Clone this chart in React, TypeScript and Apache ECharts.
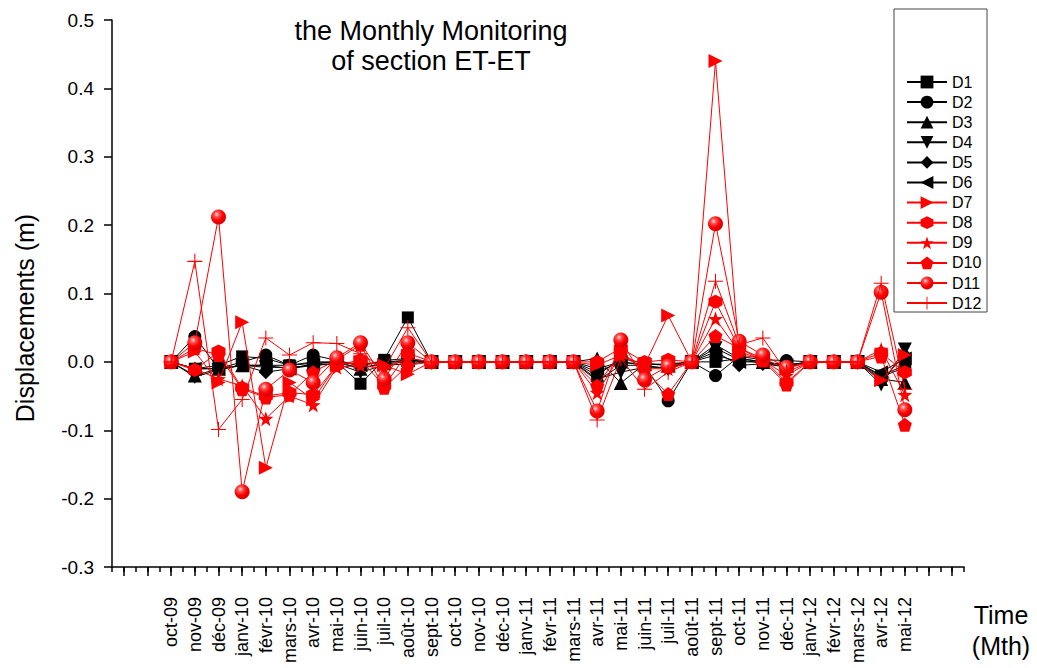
import React, { useEffect, useRef } from "react";
import * as echarts from "echarts";

const months = [
  "oct-09", "nov-09", "déc-09", "janv-10", "févr-10", "mars-10", "avr-10", "mai-10",
  "juin-10", "juil-10", "août-10", "sept-10", "oct-10", "nov-10", "déc-10", "janv-11",
  "févr-11", "mars-11", "avr-11", "mai-11", "juin-11", "juil-11", "août-11", "sept-11",
  "oct-11", "nov-11", "déc-11", "janv-12", "févr-12", "mars-12", "avr-12", "mai-12",
];

const yTicks = [-0.3, -0.2, -0.1, 0.0, 0.1, 0.2, 0.3, 0.4, 0.5];

const D1 = [0, -0.01, -0.005, 0.008, 0.005, -0.005, 0, 0, -0.032, 0.003, 0.065, 0, 0, 0, 0, 0, 0, 0, -0.02, 0.005, -0.002, -0.005, 0, 0, 0.005, 0, -0.005, 0, 0, 0, -0.02, -0.005];
const D2 = [0, 0.037, -0.01, 0, 0.01, -0.005, 0.01, 0.002, -0.005, 0.002, 0.005, 0, 0, 0, 0, 0, 0, 0, -0.015, 0, -0.005, -0.057, 0, -0.02, 0.008, 0.003, 0.002, 0, 0, 0, -0.022, -0.008];
const D3 = [0, -0.02, -0.01, -0.005, -0.005, -0.005, -0.002, 0, -0.01, -0.002, 0.003, 0, 0, 0, 0, 0, 0, 0, 0.005, -0.031, -0.003, -0.005, 0, 0.025, 0.005, 0, -0.005, 0, 0, 0, -0.025, -0.03];
const D4 = [0, -0.022, -0.012, -0.005, -0.008, -0.008, -0.005, -0.003, -0.015, -0.005, -0.003, 0, 0, 0, 0, 0, 0, 0, -0.025, -0.015, -0.008, -0.008, 0, 0.02, 0.003, -0.002, -0.008, 0, 0, 0, -0.033, 0.018];
const D5 = [0, -0.01, -0.01, -0.005, -0.015, -0.01, -0.005, -0.002, -0.008, -0.003, 0, 0, 0, 0, 0, 0, 0, 0, -0.028, -0.005, -0.005, -0.01, 0, 0.015, -0.005, -0.003, -0.006, 0, 0, 0, -0.028, 0.01];
const D6 = [0, -0.01, -0.01, -0.005, -0.005, -0.01, -0.003, 0, -0.005, 0, 0.002, 0, 0, 0, 0, 0, 0, 0, -0.01, 0, -0.004, -0.003, 0, 0.01, 0, 0, -0.005, 0, 0, 0, -0.015, 0.005];
const D7 = [0, 0.015, -0.03, 0.058, -0.155, -0.03, -0.055, -0.005, 0, -0.005, -0.018, 0, 0, 0, 0, 0, 0, 0, -0.005, 0.01, -0.005, 0.068, 0, 0.44, 0.01, 0.005, -0.01, 0, 0, 0, -0.027, 0.01];
const D8 = [0, -0.012, 0.015, -0.038, -0.05, -0.045, -0.048, -0.005, 0.003, -0.035, 0.013, 0, 0, 0, 0, 0, 0, 0, 0, 0.02, 0, 0.003, 0, 0.088, 0.02, 0.005, -0.03, 0, 0, 0, 0.013, -0.015];
const D9 = [0, -0.01, -0.025, -0.035, -0.083, -0.05, -0.063, -0.008, -0.005, -0.01, 0.005, 0, 0, 0, 0, 0, 0, 0, -0.045, 0.01, -0.01, -0.01, 0, 0.063, 0.015, 0.003, -0.02, 0, 0, 0, 0.018, -0.048];
const D10 = [0, 0.02, 0.01, -0.04, -0.052, -0.048, -0.015, 0.003, 0.025, -0.038, -0.005, 0, 0, 0, 0, 0, 0, 0, -0.035, 0.015, -0.012, -0.047, 0, 0.038, 0.02, 0.002, -0.033, 0, 0, 0, 0.008, -0.092];
const D11 = [0, 0.028, 0.212, -0.19, -0.04, -0.012, -0.03, 0.006, 0.028, -0.025, 0.028, 0, 0, 0, 0, 0, 0, 0, -0.072, 0.032, -0.026, -0.006, 0, 0.202, 0.03, 0.01, -0.008, 0, 0, 0, 0.102, -0.07];
const D12 = [0, 0.147, -0.099, -0.055, 0.035, 0.01, 0.028, 0.027, 0.012, -0.01, 0.05, 0, 0, 0, 0, 0, 0, 0, -0.085, 0.005, -0.04, -0.015, 0, 0.118, 0.025, 0.035, -0.015, 0, 0, 0, 0.115, -0.04];

const seriesNames = ["D1", "D2", "D3", "D4", "D5", "D6", "D7", "D8", "D9", "D10", "D11", "D12"];
const seriesValues = [D1, D2, D3, D4, D5, D6, D7, D8, D9, D10, D11, D12];

const FONT = "'Liberation Sans', Arial, sans-serif";
const BLACK = "#000000";
const RED = "#ff0000";

const SYM = {
  square: "rect",
  circle: "circle",
  triUp: "triangle",
  triDown: "path://M0,0 L20,0 L10,17 Z",
  diamond: "diamond",
  triLeft: "path://M0,10 L17,0 L17,20 Z",
  triRight: "path://M17,10 L0,0 L0,20 Z",
  hexagon: "path://M0,-10 L8.66,-5 L8.66,5 L0,10 L-8.66,5 L-8.66,-5 Z",
  star: "path://M0,-10 L2.35,-3.24 L9.51,-3.09 L3.8,1.24 L5.88,8.09 L0,4 L-5.88,8.09 L-3.8,1.24 L-9.51,-3.09 L-2.35,-3.24 Z",
  pentagon: "path://M0,-10 L9.51,-3.09 L5.88,8.09 L-5.88,8.09 L-9.51,-3.09 Z",
  plus: "path://M9.3,0 L10.7,0 L10.7,9.3 L20,9.3 L20,10.7 L10.7,10.7 L10.7,20 L9.3,20 L9.3,10.7 L0,10.7 L0,9.3 L9.3,9.3 Z",
};

export default function App() {
  const ref = useRef<HTMLDivElement>(null);

  useEffect(() => {
    if (!ref.current) return;
    const chart = echarts.init(ref.current, undefined, { renderer: "svg" });

    const sphere = new echarts.graphic.RadialGradient(0.38, 0.33, 0.7, [
      { offset: 0, color: "#ffe0e0" },
      { offset: 0.25, color: "#ff5050" },
      { offset: 0.6, color: "#ff0000" },
      { offset: 1, color: "#d00000" },
    ]);

    const styles = [
      { color: BLACK, symbol: SYM.square, size: 12 },
      { color: BLACK, symbol: SYM.circle, size: 13 },
      { color: BLACK, symbol: SYM.triUp, size: 14 },
      { color: BLACK, symbol: SYM.triDown, size: 14 },
      { color: BLACK, symbol: SYM.diamond, size: 14 },
      { color: BLACK, symbol: SYM.triLeft, size: 14 },
      { color: RED, symbol: SYM.triRight, size: 14 },
      { color: RED, symbol: SYM.hexagon, size: 14 },
      { color: RED, symbol: SYM.star, size: 15 },
      { color: RED, symbol: SYM.pentagon, size: 14 },
      { color: RED, symbol: SYM.circle, size: 15, fill: sphere },
      { color: RED, symbol: SYM.plus, size: 15 },
    ];

    const series = seriesNames.map((name, k) => {
      const st = styles[k];
      return {
        name,
        type: "line",
        xAxisIndex: 0,
        yAxisIndex: 0,
        data: seriesValues[k].map((v, i) => [i, v]),
        symbol: st.symbol,
        symbolSize: st.size,
        showSymbol: true,
        lineStyle: { color: st.color, width: 1 },
        itemStyle: { color: (st as any).fill || st.color, borderWidth: 0 },
        emphasis: { disabled: true },
        z: 2 + k,
      };
    });

    const majorTicks: number[] = [];
    for (let i = -2; i <= 33; i++) majorTicks.push(i);
    const labelTicks = months.map((_, i) => i);

    chart.setOption({
      animation: false,
      backgroundColor: "#ffffff",
      grid: { left: 112, right: 73, top: 20, bottom: 101, containLabel: false },
      xAxis: [
        {
          type: "value",
          position: "bottom",
          min: -2.5,
          max: 33.5,
          axisLine: { show: true, onZero: false, lineStyle: { color: BLACK, width: 1.5 } },
          axisTick: { show: true, customValues: majorTicks, length: 9, lineStyle: { color: BLACK, width: 1.5 } },
          axisLabel: {
            show: true,
            customValues: labelTicks,
            formatter: (v: number) => months[Math.round(v)] ?? "",
            rotate: 90,
            margin: 30,
            color: BLACK,
            fontSize: 18,
            fontFamily: FONT,
          },
          splitLine: { show: false },
        },
        {
          type: "value",
          position: "bottom",
          min: -2.5,
          max: 33.5,
          interval: 0.5,
          axisLine: { show: false, onZero: false },
          axisTick: { show: true, length: 5, lineStyle: { color: BLACK, width: 1.5 } },
          axisLabel: { show: false },
          splitLine: { show: false },
        },
      ],
      yAxis: {
        type: "value",
        min: -0.3,
        max: 0.5,
        interval: 0.1,
        axisLine: { show: true, onZero: false, lineStyle: { color: BLACK, width: 1.5 } },
        axisTick: { show: true, length: 8, lineStyle: { color: BLACK, width: 1.5 } },
        axisLabel: {
          color: BLACK,
          fontSize: 19,
          fontFamily: FONT,
          margin: 18,
          formatter: (v: number) => v.toFixed(1),
        },
        splitLine: { show: false },
      },
      legend: {
        orient: "vertical",
        left: 906,
        top: 74,
        padding: 0,
        itemWidth: 40,
        itemHeight: 16,
        itemGap: 4.1,
        data: seriesNames,
        textStyle: { color: BLACK, fontSize: 16, fontFamily: FONT, lineHeight: 16 },
        selectedMode: false,
      },
      graphic: [
        {
          type: "rect",
          shape: { x: 894, y: 9, width: 93, height: 303 },
          style: { fill: "none", stroke: "#444", lineWidth: 1 },
          silent: true,
        },
        {
          type: "text",
          x: 431,
          y: 16,
          style: {
            text: "the Monthly Monitoring\nof section ET-ET",
            textAlign: "center",
            textVerticalAlign: "top",
            fontSize: 27,
            lineHeight: 30,
            fontFamily: FONT,
            fill: BLACK,
          },
        },
        {
          type: "text",
          x: 25,
          y: 318,
          rotation: Math.PI / 2,
          style: {
            text: "Displacements (m)",
            textAlign: "center",
            textVerticalAlign: "middle",
            fontSize: 25,
            fontFamily: FONT,
            fill: BLACK,
          },
        },
        {
          type: "text",
          x: 1001,
          y: 630,
          style: {
            text: "Time\n(Mth)",
            textAlign: "center",
            textVerticalAlign: "middle",
            fontSize: 25,
            lineHeight: 31,
            fontFamily: FONT,
            fill: BLACK,
          },
        },
      ],
      series,
    });

    return () => chart.dispose();
  }, []);

  return (
    <div
      ref={ref}
      style={{ position: "fixed", left: 0, top: 0, width: 1037, height: 668, background: "#fff" }}
    />
  );
}
